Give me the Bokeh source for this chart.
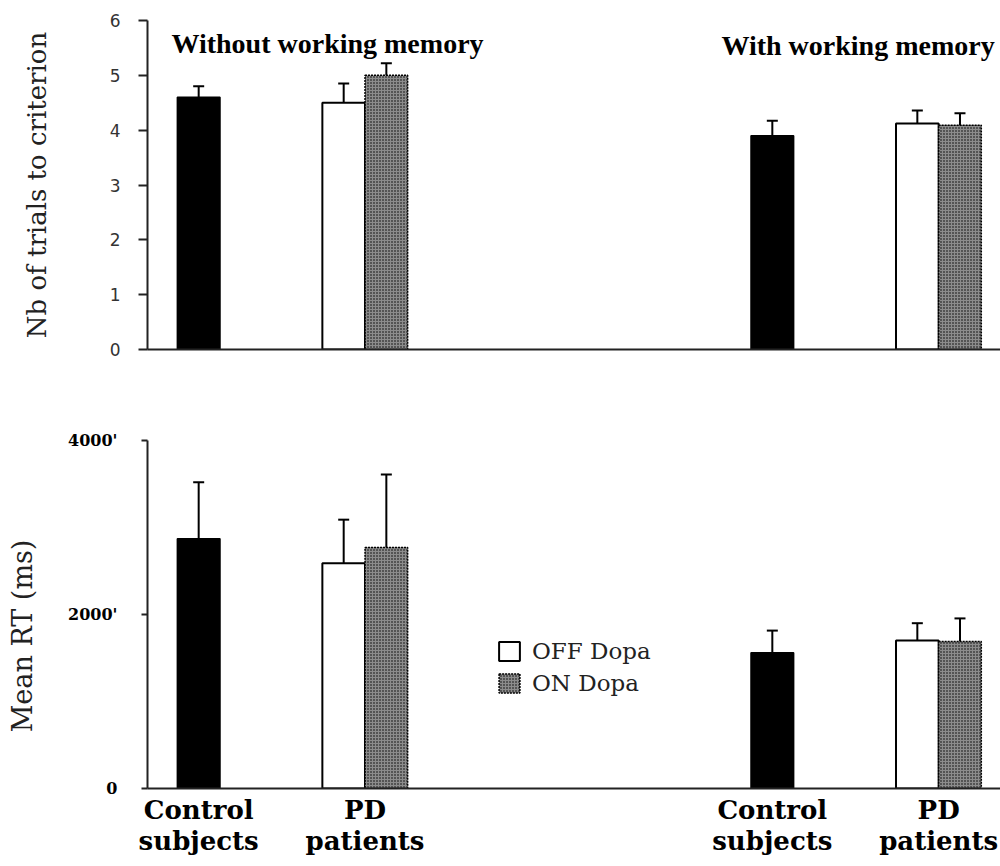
from bokeh.plotting import figure
from bokeh.layouts import column
from bokeh.models import (Range1d, FixedTicker, ColumnDataSource, Whisker, TeeHead,
                          Label, Legend, LegendItem, LinearAxis)
from bokeh.embed import file_html
from bokeh.resources import INLINE

# ---------------- data ----------------
conditions = ["Without working memory", "With working memory"]
group_labels_1 = ["Control", "PD"]
group_labels_2 = ["subjects", "patients"]
legend_labels = ["OFF Dopa", "ON Dopa"]

trials_ticks = [0, 1, 2, 3, 4, 5, 6]
rt_ticks = [0, 2000, 4000]
rt_tick_labels = ["0", "2000'", "4000'"]

trials_control = [4.6, 3.9]
trials_control_se = [0.2, 0.27]
trials_off = [4.5, 4.12]
trials_off_se = [0.35, 0.24]
trials_on = [5.0, 4.09]
trials_on_se = [0.22, 0.22]

rt_control = [2870, 1560]
rt_control_se = [650, 255]
rt_off = [2590, 1700]
rt_off_se = [500, 200]
rt_on = [2770, 1690]
rt_on_se = [840, 265]

# ---------------- layout helpers ----------------
COND_STEP = 13.45
OFF_CONTROL, OFF_OFF, OFF_ON = 1.2, 4.6, 5.6
BAR_W = 1.0
x_control = [i * COND_STEP + OFF_CONTROL for i in range(len(conditions))]
x_off = [i * COND_STEP + OFF_OFF for i in range(len(conditions))]
x_on = [i * COND_STEP + OFF_ON for i in range(len(conditions))]
x_pd = [(a + b) / 2 for a, b in zip(x_off, x_on)]

SERIF = "DejaVu Serif"


def base_fig(height, ymax, border_top, border_bottom):
    p = figure(width=1000, height=height, x_range=Range1d(0, 20), y_range=Range1d(0, ymax),
               output_backend="svg", toolbar_location=None,
               min_border_left=147, min_border_right=0,
               min_border_top=border_top, min_border_bottom=border_bottom)
    p.outline_line_color = None
    p.xgrid.visible = False
    p.ygrid.visible = False
    p.background_fill_color = "white"
    p.border_fill_color = "white"
    return p


def add_bars(p, ctrl, ctrl_se, off, off_se, on, on_se):
    s_ctrl = ColumnDataSource(dict(x=x_control, top=ctrl,
                                   up=[v + e for v, e in zip(ctrl, ctrl_se)]))
    s_off = ColumnDataSource(dict(x=x_off, top=off,
                                  up=[v + e for v, e in zip(off, off_se)]))
    s_on = ColumnDataSource(dict(x=x_on, top=on,
                                 up=[v + e for v, e in zip(on, on_se)]))
    for s in (s_ctrl, s_off, s_on):
        w = Whisker(base="x", lower="top", upper="up", source=s,
                    line_color="black", line_width=2, lower_head=None,
                    upper_head=TeeHead(size=11, line_width=2, line_color="black"))
        p.add_layout(w)
    p.vbar(x="x", top="top", width=BAR_W, source=s_ctrl, fill_color="black",
           line_color="black", line_width=1.5)
    r_off = p.vbar(x="x", top="top", width=BAR_W, source=s_off, fill_color="white",
                   line_color="black", line_width=2)
    r_on = p.vbar(x="x", top="top", width=BAR_W, source=s_on, fill_color="#8c8c8c",
                  hatch_pattern="dot", hatch_color="#000000", hatch_scale=3,
                  hatch_weight=1.2, line_color="black", line_width=1.5, line_dash="2 1")
    return r_off, r_on


# ---------------- top panel ----------------
p1 = base_fig(389, 6, 20, 40)
add_bars(p1, trials_control, trials_control_se, trials_off, trials_off_se,
         trials_on, trials_on_se)

p1.xaxis.ticker = FixedTicker(ticks=[])
p1.xaxis.major_tick_line_color = None
p1.xaxis.minor_tick_line_color = None
p1.xaxis.axis_line_width = 2
p1.xaxis.axis_line_color = "#222222"

p1.yaxis.ticker = FixedTicker(ticks=trials_ticks)
p1.yaxis.minor_tick_line_color = None
p1.yaxis.major_tick_in = 0
p1.yaxis.major_tick_out = 9
p1.yaxis.major_tick_line_width = 2
p1.yaxis.axis_line_width = 2
p1.yaxis.axis_line_color = "#222222"
p1.yaxis.major_tick_line_color = "#222222"
p1.yaxis.major_label_text_font = "DejaVu Sans"
p1.yaxis.major_label_text_font_size = "17px"
p1.yaxis.major_label_text_color = "#333333"
p1.yaxis.major_label_standoff = 18
p1.yaxis.axis_label = "Nb of trials to criterion"
p1.yaxis.axis_label_text_font = SERIF
p1.yaxis.axis_label_text_font_style = "normal"
p1.yaxis.axis_label_text_font_size = "26px"
p1.yaxis.axis_label_text_color = "#222222"
p1.yaxis.axis_label_standoff = 55

title_y = [5.58, 5.54]
title_x = [4.22, 16.66]
for t, tx, ty in zip(conditions, title_x, title_y):
    p1.add_layout(Label(x=tx, y=ty, text=t, text_align="center", text_baseline="middle",
                        text_font="Liberation Serif", text_font_style="bold",
                        text_font_size="28px", text_color="black"))

# ---------------- bottom panel ----------------
p2 = base_fig(477, 4000, 51, 78)
r_off, r_on = add_bars(p2, rt_control, rt_control_se, rt_off, rt_off_se, rt_on, rt_on_se)

p2.yaxis.ticker = FixedTicker(ticks=rt_ticks)
p2.yaxis.major_label_overrides = {t: l for t, l in zip(rt_ticks, rt_tick_labels)}
p2.yaxis.minor_tick_line_color = None
p2.yaxis.major_tick_in = 0
p2.yaxis.major_tick_out = 6
p2.yaxis.major_tick_line_width = 2
p2.yaxis.axis_line_width = 2
p2.yaxis.axis_line_color = "#222222"
p2.yaxis.major_tick_line_color = "#222222"
p2.yaxis.major_label_text_font = SERIF
p2.yaxis.major_label_text_font_style = "bold"
p2.yaxis.major_label_text_font_size = "16px"
p2.yaxis.major_label_text_color = "black"
p2.yaxis.major_label_standoff = 24
p2.yaxis.axis_label = "Mean RT (ms)" + "\u00a0" * 5
p2.yaxis.axis_label_text_font = SERIF
p2.yaxis.axis_label_text_font_style = "normal"
p2.yaxis.axis_label_text_font_size = "27px"
p2.yaxis.axis_label_text_color = "#222222"
p2.yaxis.axis_label_standoff = 27

cat_ticks = [x_control[0], x_pd[0], x_control[1], x_pd[1]]
p2.xaxis.ticker = FixedTicker(ticks=cat_ticks)
p2.xaxis.major_label_overrides = {t: l for t, l in zip(cat_ticks, group_labels_1 * 2)}
p2.xaxis.major_tick_line_color = None
p2.xaxis.major_tick_out = 0
p2.xaxis.major_tick_in = 0
p2.xaxis.minor_tick_line_color = None
p2.xaxis.axis_line_width = 2
p2.xaxis.axis_line_color = "#222222"
p2.xaxis.major_label_text_font = SERIF
p2.xaxis.major_label_text_font_style = "bold"
p2.xaxis.major_label_text_font_size = "26px"
p2.xaxis.major_label_text_color = "black"
p2.xaxis.major_label_standoff = 6

ax2 = LinearAxis(ticker=FixedTicker(ticks=cat_ticks),
                 major_label_overrides={t: l for t, l in zip(cat_ticks, group_labels_2 * 2)},
                 axis_line_color=None, major_tick_line_color=None, minor_tick_line_color=None,
                 major_tick_out=0, major_tick_in=0,
                 major_label_text_font=SERIF, major_label_text_font_style="bold",
                 major_label_text_font_size="26px", major_label_text_color="black",
                 major_label_standoff=-2)
p2.add_layout(ax2, "below")

legend = Legend(items=[LegendItem(label=legend_labels[0], renderers=[r_off]),
                       LegendItem(label=legend_labels[1], renderers=[r_on])],
                location=(349, 92), border_line_color=None, background_fill_alpha=0,
                padding=10, margin=0, spacing=6, glyph_width=26, glyph_height=24,
                label_standoff=10, label_text_font=SERIF, label_text_font_size="23px",
                label_text_color="#222222")
p2.add_layout(legend, "center")

layout = column(p1, p2, spacing=0)
open("out.html", "w").write(file_html(layout, INLINE))
